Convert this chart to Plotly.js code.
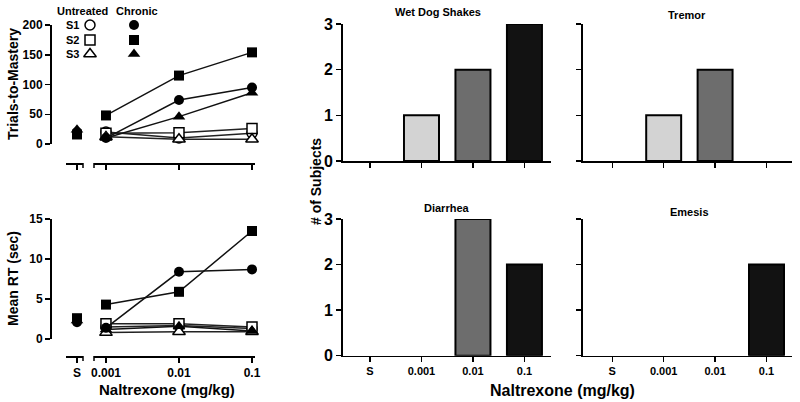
<!DOCTYPE html>
<html>
<head>
<meta charset="utf-8">
<script src="https://cdn.plot.ly/plotly-3.0.1.min.js"></script>
<style>body{margin:0;background:#fff}#chart{width:800px;height:402px}</style>
</head>
<body>
<div id="chart"></div>
<script>
// ---- data ----
const doses = [0.001, 0.01, 0.1];
const doseLabels = ['0.001', '0.01', '0.1'];
const subjects = ['S1', 'S2', 'S3'];
const symbols = ['circle', 'square', 'triangle-up'];

// trials-to-mastery, one row per subject
const trialsUntreated = [[20, 10, 18], [18, 19, 26], [12, 8, 8]];
const trialsChronic = [[10, 74, 95], [48, 115, 154], [10, 46, 86]];
const trialsSaline = [20, 16, 24];

// mean RT (sec)
const rtUntreated = [[1.5, 1.7, 1.3], [1.9, 1.9, 1.5], [0.8, 0.9, 0.9]];
const rtChronic = [[1.4, 8.4, 8.7], [4.3, 5.9, 13.5], [1.2, 1.6, 1.0]];
const rtSaline = [2.1, 2.6, 2.3];

// # of subjects showing each withdrawal sign
const barCats = ['S', '0.001', '0.01', '0.1'];
const wetDogShakes = [0, 1, 2, 3];
const tremor = [0, 1, 2, 0];
const diarrhea = [0, 0, 3, 2];
const emesis = [0, 0, 0, 2];

// ---- helpers ----
const W = 800, H = 402;
const px = v => v / W;
const py = v => 1 - v / H;
const FONT = 'Liberation Sans, Arial, sans-serif';
const bold = size => ({family: FONT, size: size, color: '#000', weight: 'bold'});
const markerSize = s => s === 'triangle-up' ? 11 : 10;

const traces = [];

function addSeries(untreated, chronic, saline, xs, xm, ya) {
    for (let i = 0; i < subjects.length; i++) {
        traces.push({
            x: doses, y: untreated[i], xaxis: xm, yaxis: ya,
            type: 'scatter', mode: 'lines+markers', cliponaxis: false,
            name: subjects[i] + ' untreated',
            line: {color: '#222', width: 1.5},
            marker: {symbol: symbols[i], size: markerSize(symbols[i]), color: '#fff', line: {color: '#000', width: 1.5}}
        });
    }
    for (let i = 0; i < subjects.length; i++) {
        traces.push({
            x: doses, y: chronic[i], xaxis: xm, yaxis: ya,
            type: 'scatter', mode: 'lines+markers', cliponaxis: false,
            name: subjects[i] + ' chronic',
            line: {color: '#111', width: 1.5},
            marker: {symbol: symbols[i], size: markerSize(symbols[i]), color: '#000'}
        });
        traces.push({
            x: ['S'], y: [saline[i]], xaxis: xs, yaxis: ya,
            type: 'scatter', mode: 'markers', cliponaxis: false,
            name: subjects[i] + ' saline',
            marker: {symbol: symbols[i], size: markerSize(symbols[i]), color: '#000'}
        });
    }
}

addSeries(trialsUntreated, trialsChronic, trialsSaline, 'x', 'x2', 'y');
addSeries(rtUntreated, rtChronic, rtSaline, 'x3', 'x4', 'y2');

const barColors = ['#ffffff', '#d3d3d3', '#6d6d6d', '#121212'];
[[wetDogShakes, 'x5', 'y3'], [tremor, 'x6', 'y4'], [diarrhea, 'x7', 'y5'], [emesis, 'x8', 'y6']].forEach(b => {
    traces.push({
        x: barCats, y: b[0], xaxis: b[1], yaxis: b[2], type: 'bar',
        width: 0.68, cliponaxis: false,
        marker: {color: barColors, line: {color: '#000', width: b[0].map(v => v > 0 ? 2 : 0)}}
    });
});

// legend keys (drawn on a hidden full-page overlay axis)
const keyY = [25, 40, 54];
symbols.forEach((s, i) => {
    traces.push({
        x: [90], y: [keyY[i]], xaxis: 'x9', yaxis: 'y7', type: 'scatter', mode: 'markers',
        cliponaxis: false,
        marker: {symbol: s, size: markerSize(s), color: '#fff', line: {color: '#000', width: 1.5}}
    });
    traces.push({
        x: [134], y: [keyY[i]], xaxis: 'x9', yaxis: 'y7', type: 'scatter', mode: 'markers',
        cliponaxis: false,
        marker: {symbol: s, size: markerSize(s), color: '#000'}
    });
});

const axBase = {
    showgrid: false, zeroline: false, showline: true, linecolor: '#000', linewidth: 1.5,
    ticks: 'outside', ticklen: 5, tickwidth: 1.5, tickcolor: '#000', fixedrange: true
};

function sAxis(pos, labels) {
    return Object.assign({}, axBase, {
        domain: [px(66), px(83)], anchor: 'free', position: py(pos),
        type: 'category', range: [-0.647, 0.353],
        showticklabels: labels, tickfont: bold(12)
    });
}
function doseAxis(pos, labels) {
    return Object.assign({}, axBase, {
        domain: [px(94), px(255)], anchor: 'free', position: py(pos),
        type: 'log', range: [-3.164, -0.959],
        tickvals: doses, ticktext: doseLabels,
        showticklabels: labels, tickfont: bold(12)
    });
}
function barX(left, right, r0, r1, anchor, labels) {
    return Object.assign({}, axBase, {
        domain: [px(left), px(right)], anchor: anchor, type: 'category',
        range: [r0, r1], showticklabels: labels, tickfont: bold(11)
    });
}
function barY(top, bottom, anchor, labels) {
    return Object.assign({}, axBase, {
        domain: [py(bottom), py(top)], anchor: anchor, range: [0, 3],
        tickvals: [0, 1, 2, 3], showticklabels: labels, tickfont: bold(16)
    });
}

const ann = (text, x, y, size, extra) => Object.assign({
    text: '<b>' + text + '</b>', x: px(x), y: py(y), xref: 'paper', yref: 'paper',
    showarrow: false, xanchor: 'center', yanchor: 'middle',
    font: {family: FONT, size: size, color: '#000'}
}, extra || {});

const annotations = [
    ann('Trials-to-Mastery', 13, 84, 14, {textangle: -90}),
    ann('Mean RT (sec)', 13, 279, 14, {textangle: -90}),
    ann('Naltrexone (mg/kg)', 167, 389, 15),
    ann('# of Subjects', 316, 182, 14, {textangle: -90}),
    ann('Naltrexone (mg/kg)', 562, 390, 16),
    ann('Wet Dog Shakes', 438, 12, 11),
    ann('Tremor', 687, 15, 11),
    ann('Diarrhea', 447, 208, 11),
    ann('Emesis', 689, 212, 11),
    ann('Untreated', 82, 11, 11),
    ann('Chronic', 137, 11, 11)
];
subjects.forEach((s, i) => annotations.push(ann(s, 72, keyY[i], 11)));

// axis break marks
const brk = (x, y) => ({type: 'line', xref: 'paper', yref: 'paper',
    x0: px(x), x1: px(x), y0: py(y), y1: py(y + 5), line: {color: '#000', width: 1.5}});

const layout = {
    width: W, height: H, margin: {l: 0, r: 0, t: 0, b: 0},
    paper_bgcolor: '#fff', plot_bgcolor: 'rgba(0,0,0,0)',
    showlegend: false, bargap: 0,
    font: {family: FONT, color: '#000'},
    xaxis: sAxis(163, false),
    xaxis2: doseAxis(163, false),
    yaxis: Object.assign({}, axBase, {
        domain: [py(144), py(25)], anchor: 'free', position: px(50),
        range: [0, 200], tickvals: [0, 50, 100, 150, 200], tickfont: bold(12)
    }),
    xaxis3: sAxis(356, true),
    xaxis4: doseAxis(356, true),
    yaxis2: Object.assign({}, axBase, {
        domain: [py(339), py(219)], anchor: 'free', position: px(50),
        range: [0, 15], tickvals: [0, 5, 10, 15], tickfont: bold(12)
    }),
    xaxis5: barX(342.7, 550.7, -0.53, 3.51, 'y3', false),
    yaxis3: barY(24, 161, 'x5', true),
    xaxis6: barX(582.7, 791.7, -0.575, 3.49, 'y4', false),
    yaxis4: barY(24, 161, 'x6', false),
    xaxis7: barX(342.7, 550.7, -0.53, 3.51, 'y5', true),
    yaxis5: barY(219, 355.7, 'x7', true),
    xaxis8: barX(582.7, 791.7, -0.575, 3.49, 'y6', true),
    yaxis6: barY(219, 355.7, 'x8', false),
    xaxis9: {domain: [0, 1], range: [0, W], visible: false, anchor: 'y7', fixedrange: true},
    yaxis7: {domain: [0, 1], range: [H, 0], visible: false, anchor: 'x9', fixedrange: true},
    annotations: annotations,
    shapes: [brk(83, 163), brk(94, 163), brk(83, 356), brk(94, 356)]
};

Plotly.newPlot('chart', traces, layout, {displayModeBar: false, staticPlot: true});
</script>
</body>
</html>
